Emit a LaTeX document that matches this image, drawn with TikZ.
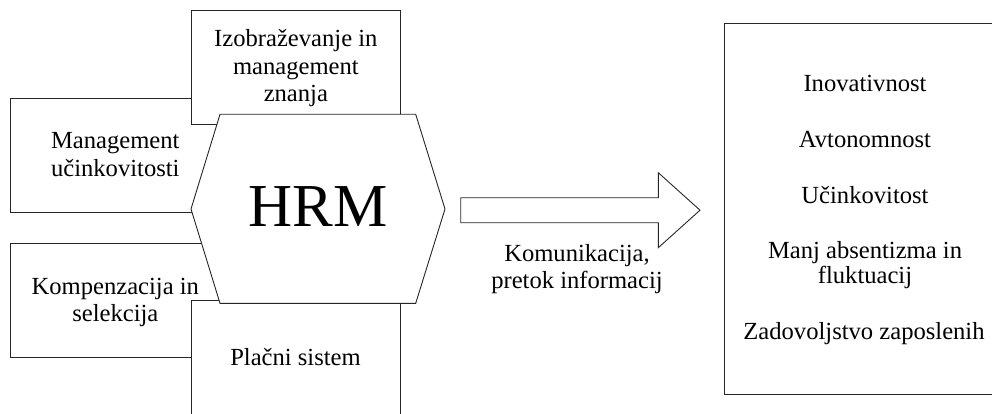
\documentclass[tikz,border=0pt]{standalone}
\usepackage{fontspec}
\setmainfont{Liberation Serif}
\newcommand{\mlines}[1]{\begin{tabular}[t]{@{}c@{}}#1\end{tabular}}
\begin{document}
\begin{tikzpicture}[x=1pt,y=-1pt,
  box/.style={draw=black!85, line width=0.9pt, fill=white, inner sep=0pt},
  lbl/.style={inner sep=0pt, anchor=base, font=\fontsize{24.6}{27.5}\selectfont},
]
\useasboundingbox (0,0) rectangle (992,414);
% side boxes
\node[box, minimum width=209.3pt, minimum height=114pt] (lt) at (115.35,155) {};
\node[box, minimum width=209.3pt, minimum height=114pt] (lb) at (115.35,300) {};
\node[box, minimum width=209.7pt, minimum height=114.7pt] (tp) at (295.85,67.35) {};
\node[box, minimum width=209.7pt, minimum height=119.3pt] (bt) at (295.85,360.35) {};
% hexagon
\coordinate (h1) at (191,209);
\coordinate (h2) at (220,114.3);
\coordinate (h3) at (415.7,114.3);
\coordinate (h4) at (445,209);
\coordinate (h5) at (415.7,303.3);
\coordinate (h6) at (220,303.3);
\draw[box] (h1) -- (h2) -- (h3) -- (h4) -- (h5) -- (h6) -- cycle;
\node[inner sep=0pt, anchor=base, font=\fontsize{61}{66}\selectfont] (hrm) at (318,226.7) {HRM};
% right box
\node[box, minimum width=286pt, minimum height=370.7pt] (rb) at (867,208.65) {};
% block arrow
\draw[box] (460.7,197.7) -- (658.3,197.7) -- (658.3,172.7) -- (700,210.2)
  -- (658.3,247.7) -- (658.3,222.7) -- (460.7,222.7) -- cycle;
% labels
\node[lbl] (tptext) at (295.85,46.7) {\mlines{Izobraževanje in\\management\\znanja}};
\node[lbl] (lttext) at (115.3,149) {\mlines{Management\\učinkovitosti}};
\node[lbl] (lbtext) at (115.3,294) {\mlines{Kompenzacija in\\selekcija}};
\node[lbl] (bttext) at (295.5,365) {Plačni sistem};
\node[lbl] (arrtext) at (577,261.7) {\mlines{Komunikacija,\\[-1pt]pretok informacij}};
\node[lbl] (r1) at (865,91.7) {Inovativnost};
\node[lbl] (r2) at (865,148) {Avtonomnost};
\node[lbl] (r3) at (865,203) {Učinkovitost};
\node[lbl] (r4) at (865,258) {\mlines{Manj absentizma in\\[-2.5pt]fluktuacij}};
\node[lbl] (r5) at (864,339) {Zadovoljstvo zaposlenih};
\end{tikzpicture}
\end{document}
